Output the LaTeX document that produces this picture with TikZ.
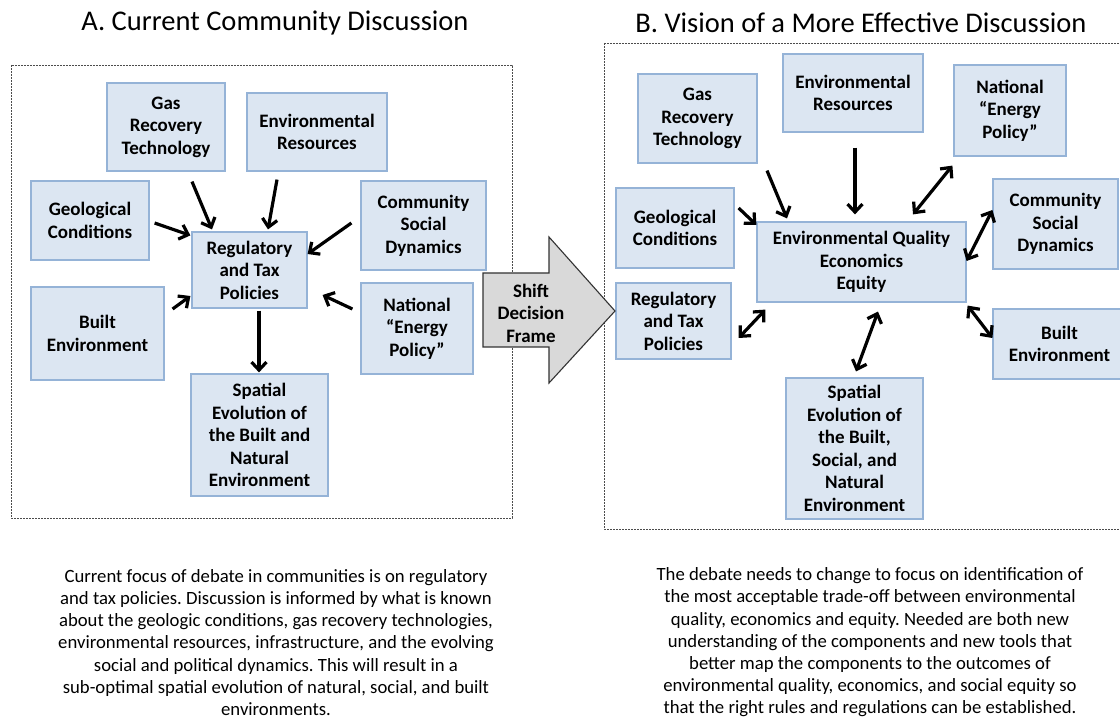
\documentclass[tikz,border=0pt]{standalone}
\usepackage{fontspec}
\setmainfont{Carlito}
\usetikzlibrary{arrows.meta}
\definecolor{boxfill}{HTML}{DCE6F2}
\definecolor{boxdraw}{HTML}{95B3D7}
\definecolor{arrfill}{HTML}{D9D9D9}
\frenchspacing
\begin{document}
\begin{tikzpicture}[x=1pt,y=-1pt,
  box/.style={draw=boxdraw, fill=boxfill, line width=1.2pt, align=center,
    font=\fontsize{19}{22.5}\selectfont\bfseries, inner sep=0pt},
  arr/.style={line width=3.2pt, -{Straight Barb[length=8pt,width=15pt]}},
  darr/.style={line width=3.2pt, {Straight Barb[length=8pt,width=15pt]}-{Straight Barb[length=8pt,width=15pt]}},
  frm/.style={draw=black!70, line width=0.9pt, dash pattern=on 2pt off 1pt},
  ttl/.style={font=\fontsize{28.5}{32}\selectfont},
  para/.style={align=center, font=\fontsize{18.7}{22.2}\selectfont, inner sep=0pt},
  bigarrow/.style={draw=black!80, fill=arrfill, line width=1.1pt}]
\useasboundingbox[fill=white] (0,0) rectangle (1120,719);

% titles
\node[ttl] (ttlA) at (275,23) {A. Current Community Discussion};
\node[ttl] (ttlB) at (861,23) {B. Vision of a More Effective Discussion};

% frames
\draw[frm] (11,65) rectangle (512,518);
\draw[frm] (604,43) rectangle (1130,529);

% left boxes
\node[box, minimum width=118pt, minimum height=88pt] (gasL) at (166,127) {Gas\\Recovery\\Technology};
\node[box, minimum width=140pt, minimum height=78pt] (envL) at (317,132) {Environmental\\Resources};
\node[box, minimum width=118pt, minimum height=79pt] (geoL) at (90,220.5) {Geological\\Conditions};
\node[box, minimum width=125pt, minimum height=89pt] (comL) at (423.5,225.5) {Community\\Social\\Dynamics};
\node[box, minimum width=115pt, minimum height=76pt] (regL) at (249.5,270) {Regulatory\\and Tax\\Policies};
\node[box, minimum width=133pt, minimum height=93pt] (builtL) at (97.5,333.5) {Built\\Environment};
\node[box, minimum width=112pt, minimum height=91pt] (natL) at (417,328.5) {National\\``Energy\\Policy''};
\node[box, minimum width=137pt, minimum height=122pt] (spatL) at (259.5,435) {Spatial\\Evolution of\\the Built and\\Natural\\Environment};

% left arrows
\draw[arr] ([shift={(26,10)}]gasL.south) -- ([shift={(-37.5,-2)}]regL.north);
\draw[arr] ([shift={(-40,8)}]envL.south) -- ([shift={(18.5,-2)}]regL.north);
\draw[arr] ([shift={(5,2.5)}]geoL.east) -- ([shift={(-1,4)}]regL.north west);
\draw[arr] ([shift={(-9,-2.5)}]comL.west) -- ([shift={(0,-16)}]regL.east);
\draw[arr] ([shift={(8,-24.5)}]builtL.east) -- ([shift={(-1,26)}]regL.west);
\draw[arr] ([shift={(-8,-19.5)}]natL.west) -- ([shift={(15,25)}]regL.east);
\draw[arr] ([shift={(9.5,2)}]regL.south) -- ([shift={(-0.5,-1)}]spatL.north);

% right boxes
\node[box, minimum width=119pt, minimum height=89pt] (gasR) at (697.5,118.5) {Gas\\Recovery\\Technology};
\node[box, minimum width=140pt, minimum height=78pt] (envR) at (853,93) {Environmental\\Resources};
\node[box, minimum width=112pt, minimum height=91pt] (natR) at (1010,110.5) {National\\``Energy\\Policy''};
\node[box, minimum width=118pt, minimum height=80pt] (geoR) at (675,228) {Geological\\Conditions};
\node[box, minimum width=209pt, minimum height=80pt] (cenR) at (861.5,262) {Environmental Quality\\Economics\\Equity};
\node[box, minimum width=125pt, minimum height=90pt] (comR) at (1055.5,224) {Community\\Social\\Dynamics};
\node[box, minimum width=115pt, minimum height=76pt] (regR) at (673.5,321) {Regulatory\\and Tax\\Policies};
\node[box, minimum width=133pt, minimum height=70pt] (builtR) at (1059.5,344) {Built\\Environment};
\node[box, minimum width=137pt, minimum height=141pt] (spatR) at (854.5,448.5) {Spatial\\Evolution of\\the Built,\\Social, and\\Natural\\Environment};

% right arrows
\draw[arr] ([shift={(69.5,7)}]gasR.south) -- ([shift={(-74.5,-3)}]cenR.north);
\draw[arr] ([shift={(2,15)}]envR.south) -- ([shift={(-6.5,-7)}]cenR.north);
\draw[arr] ([shift={(4,-20)}]geoR.east) -- ([shift={(0,-37)}]cenR.west);
\draw[darr] ([shift={(-1,9)}]natR.south west) -- ([shift={(51.5,-7)}]cenR.north);
\draw[darr] ([shift={(0,-14)}]comR.west) -- ([shift={(0,-1)}]cenR.east);
\draw[darr] ([shift={(7,17)}]regR.east) -- ([shift={(9,7)}]cenR.south west);
\draw[darr] ([shift={(1.5,-6)}]spatR.north) -- ([shift={(16.5,9)}]cenR.south);
\draw[darr] ([shift={(0,-6)}]builtR.west) -- ([shift={(1,3)}]cenR.south east);

% big shift arrow
\draw[bigarrow] (483,273) -- (549,273) -- (549,237) -- (615,311) -- (549,383) -- (549,347) -- (483,347) -- cycle;
\node[align=center, font=\fontsize{19}{22.5}\selectfont\bfseries, inner sep=0pt] (shift) at (531,313) {Shift\\Decision\\Frame};

% captions
\node[para] (txtL) at (276,642.5) {Current focus of debate in communities is on regulatory\\and tax policies. Discussion is informed by what is known\\about the geologic conditions, gas recovery technologies,\\environmental resources, infrastructure, and the evolving\\social and political dynamics. This will result in a\\sub-optimal spatial evolution of natural, social, and built\\environments.};
\node[para] (txtR) at (870,642.5) {The debate needs to change to focus on identification of\\the most acceptable trade-off between environmental\\quality, economics and equity. Needed are both new\\understanding of the components and new tools that\\better map the components to the outcomes of\\environmental quality, economics, and social equity so\\that the right rules and regulations can be established.};
\end{tikzpicture}
\end{document}
